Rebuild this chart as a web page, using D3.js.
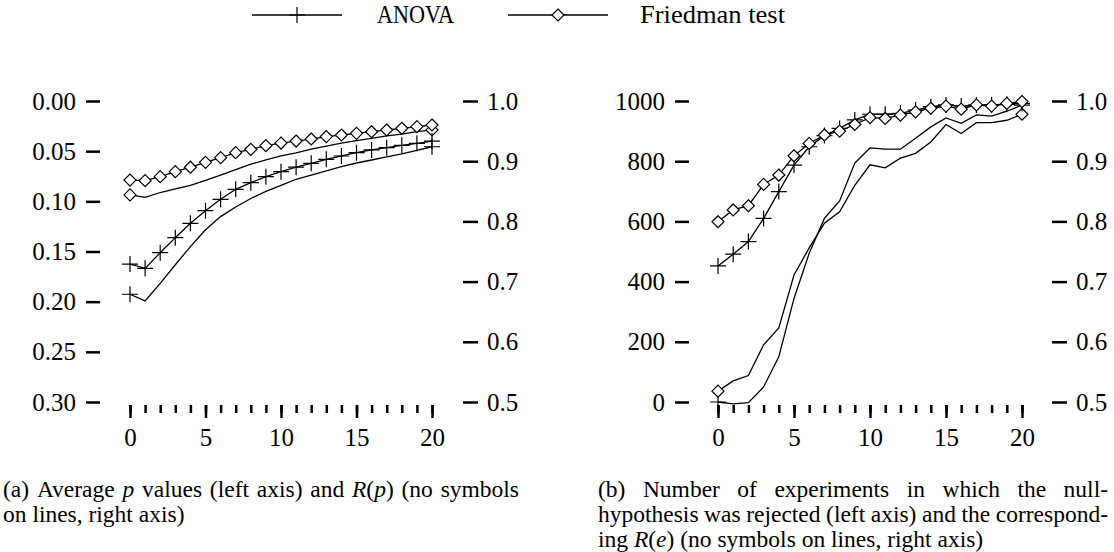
<!DOCTYPE html>
<html><head><meta charset="utf-8">
<script src="https://cdn.jsdelivr.net/npm/d3@7"></script>
<style>
body{margin:0;background:#fff;}
svg{display:block;font-family:'Liberation Serif','Times New Roman',Times,Tinos,'DejaVu Serif',serif;}
</style></head><body>
<svg id="c" width="1114" height="552"></svg>
<script>
// ---------- data ----------
const steps = [0,1,2,3,4,5,6,7,8,9,10,11,12,13,14,15,16,17,18,19,20];
const majorTicks = [0,5,10,15,20];
const pTicks = [0.00,0.05,0.10,0.15,0.20,0.25,0.30];
const rTicks = [0.5,0.6,0.7,0.8,0.9,1.0];
const countTicks = [0,200,400,600,800,1000];

// (a) average p values (left axis)
const anovaP    = [0.1625,0.1668,0.1512,0.1362,0.1219,0.1093,0.0980,0.0880,0.0814,0.0754,0.0704,0.0660,0.0621,0.0581,0.0548,0.0515,0.0488,0.0465,0.0442,0.0422,0.0399];
const friedmanP = [0.0788,0.0794,0.0754,0.0704,0.0660,0.0611,0.0565,0.0515,0.0482,0.0445,0.0419,0.0399,0.0379,0.0355,0.0339,0.0322,0.0306,0.0289,0.0272,0.0256,0.0239];
// (a) R(p) (right axis)
const anovaRp    = [0.679,0.668,0.697,0.728,0.758,0.786,0.808,0.824,0.838,0.850,0.860,0.870,0.877,0.884,0.891,0.897,0.902,0.907,0.912,0.918,0.924];
const friedmanRp = [0.844,0.840,0.848,0.854,0.860,0.868,0.877,0.886,0.895,0.902,0.909,0.914,0.920,0.925,0.930,0.934,0.938,0.942,0.945,0.949,0.952];

// (b) number of rejections (left axis)
const anovaRej    = [452,491,533,610,699,787,848,885,909,937,956,956,959,970,981,987,983,987,987,989,992];
const friedmanRej = [599,638,652,723,754,818,859,887,900,922,945,942,953,964,976,983,973,987,983,992,998];
// (b) R(e) (right axis)
const anovaRe    = [0.500,0.497,0.499,0.525,0.575,0.672,0.747,0.805,0.834,0.897,0.922,0.920,0.920,0.938,0.957,0.972,0.963,0.977,0.975,0.983,0.993];
const friedmanRe = [0.518,0.535,0.544,0.595,0.623,0.711,0.756,0.797,0.816,0.860,0.894,0.889,0.905,0.913,0.932,0.961,0.946,0.964,0.964,0.968,0.978];

const legendLabels = ["ANOVA","Friedman test"];
// each word is a list of [text, style] parts ("i" = italic)
const captionA = [
  [[["(a)"]],[["Average"]],[["p","i"]],[["values"]],[["(left"]],[["axis)"]],[["and"]],[["R","i"],["("],["p","i"],[")"]],[["(no"]],[["symbols"]]],
  [[["on"]],[["lines,"]],[["right"]],[["axis)"]]]
];
const captionB = [
  [[["(b)"]],[["Number"]],[["of"]],[["experiments"]],[["in"]],[["which"]],[["the"]],[["null-"]]],
  [[["hypothesis"]],[["was"]],[["rejected"]],[["(left"]],[["axis)"]],[["and"]],[["the"]],[["correspond-"]]],
  [[["ing"]],[["R","i"],["("],["e","i"],[")"]],[["(no"]],[["symbols"]],[["on"]],[["lines,"]],[["right"]],[["axis)"]]]
];

// ---------- drawing ----------
const svg = d3.select("#c");
const FONT = "'Liberation Serif','Times New Roman',Times,Tinos,'DejaVu Serif',serif";
const crossPath = "M-8,0H8M0,-8V8";
const diamondPath = "M0,-6L6,0L0,6L-6,0Z";

function marker(g, type, x, y){
  const p = g.append("path").attr("transform",`translate(${x},${y})`);
  if(type==="cross") p.attr("d",crossPath).attr("stroke","#000").attr("stroke-width",1.2).attr("fill","none");
  else p.attr("d",diamondPath).attr("stroke","#000").attr("stroke-width",1.2).attr("fill","#fff");
}

function styleAxis(g){
  g.attr("font-size",25).attr("font-family",FONT);
  g.select(".domain").remove();
  g.selectAll(".tick line").attr("stroke-width",2.5).attr("stroke","#000");
  g.selectAll(".tick text").attr("fill","#000");
}

function panel(cfg){
  const g = svg.append("g");
  const x = d3.scaleLinear().domain([0,20]).range(cfg.xr);
  const yL = d3.scaleLinear().domain(cfg.yLdom).range([cfg.yTop,cfg.yBot]);
  const yR = d3.scaleLinear().domain([1.0,0.5]).range([cfg.yTop,cfg.yBot]);

  const la = g.append("g").attr("transform",`translate(${cfg.leftAxisX},0)`)
    .call(d3.axisLeft(yL).tickValues(cfg.lTicks).tickFormat(cfg.lFmt).tickSize(14).tickPadding(10));
  styleAxis(la);
  const ra = g.append("g").attr("transform",`translate(${cfg.rightAxisX},0)`)
    .call(d3.axisRight(yR).tickValues(rTicks).tickFormat(d3.format(".1f")).tickSize(15).tickPadding(9));
  styleAxis(ra);
  const xm = g.append("g").attr("transform",`translate(0,${cfg.xAxisY})`)
    .call(d3.axisBottom(x).tickValues(steps).tickFormat("").tickSize(8));
  styleAxis(xm);
  const xM = g.append("g").attr("transform",`translate(0,${cfg.xAxisY})`)
    .call(d3.axisBottom(x).tickValues(majorTicks).tickFormat(d3.format("d")).tickSize(13).tickPadding(10));
  styleAxis(xM);

  const lineL = d3.line().x((d,i)=>x(steps[i])).y(d=>yL(d));
  const lineR = d3.line().x((d,i)=>x(steps[i])).y(d=>yR(d));
  const lg = g.append("g").attr("fill","none").attr("stroke","#000").attr("stroke-width",1.3);
  cfg.rSeries.forEach(s=>{ lg.append("path").attr("d",lineR(s.v)); });
  cfg.lSeries.forEach(s=>{ lg.append("path").attr("d",lineL(s.v)); });
  const mg = g.append("g");
  cfg.rSeries.forEach(s=>{
    [0,s.v.length-1].forEach(i=>marker(mg,s.m,x(steps[i]),yR(s.v[i])));
  });
  cfg.lSeries.forEach(s=>{
    s.v.forEach((d,i)=>marker(mg,s.m,x(steps[i]),yL(d)));
  });
}

panel({
  xr:[130,432], yLdom:[0,0.30], yTop:101, yBot:402, leftAxisX:100, rightAxisX:463, xAxisY:405,
  lTicks:pTicks, lFmt:d3.format(".2f"),
  lSeries:[{v:anovaP,m:"cross"},{v:friedmanP,m:"diamond"}],
  rSeries:[{v:anovaRp,m:"cross"},{v:friedmanRp,m:"diamond"}]
});
panel({
  xr:[718,1022], yLdom:[1000,0], yTop:101, yBot:402, leftAxisX:689, rightAxisX:1052, xAxisY:405,
  lTicks:countTicks, lFmt:d3.format("d"),
  lSeries:[{v:anovaRej,m:"cross"},{v:friedmanRej,m:"diamond"}],
  rSeries:[{v:anovaRe,m:"cross"},{v:friedmanRe,m:"diamond"}]
});

// legend
const leg = svg.append("g").attr("font-family",FONT).attr("font-size",25);
const legItems = [
  {x1:252,x2:342,m:"cross",tx:377,w:77},
  {x1:508,x2:608,m:"diamond",tx:640,w:145}
];
legItems.forEach((it,k)=>{
  leg.append("line").attr("x1",it.x1).attr("x2",it.x2).attr("y1",15).attr("y2",15).attr("stroke","#000").attr("stroke-width",1.3);
  marker(leg,it.m,(it.x1+it.x2)/2,15);
  leg.append("text").attr("x",it.tx).attr("y",23)
    .attr("textLength",it.w).attr("lengthAdjust","spacingAndGlyphs").text(legendLabels[k]);
});

// captions
const CAP_FS = 23.5;
function wordText(g, parts){
  const t = g.append("text").attr("font-family",FONT).attr("font-size",CAP_FS);
  parts.forEach(p=>{
    t.append("tspan").attr("font-style",p[1]==="i"?"italic":"normal").text(p[0]);
  });
  return t;
}
function captionLine(words, x0, x1, y, justify){
  const g = svg.append("g");
  const ts = words.map(w=>wordText(g,w));
  const widths = ts.map(t=>t.node().getComputedTextLength());
  let gap = CAP_FS*0.25;
  if(justify && ts.length>1){
    gap = (x1-x0-d3.sum(widths))/(ts.length-1);
  }
  let cx = x0;
  ts.forEach((t,i)=>{ t.attr("x",cx).attr("y",y); cx += widths[i]+gap; });
}
captionLine(captionA[0], 3, 519, 497, true);
captionLine(captionA[1], 3, 200, 522, false);
captionLine(captionB[0], 598, 1108, 497, true);
captionLine(captionB[1], 598, 1108, 522, true);
captionLine(captionB[2], 598, 1108, 547, false);
</script>
</body></html>
